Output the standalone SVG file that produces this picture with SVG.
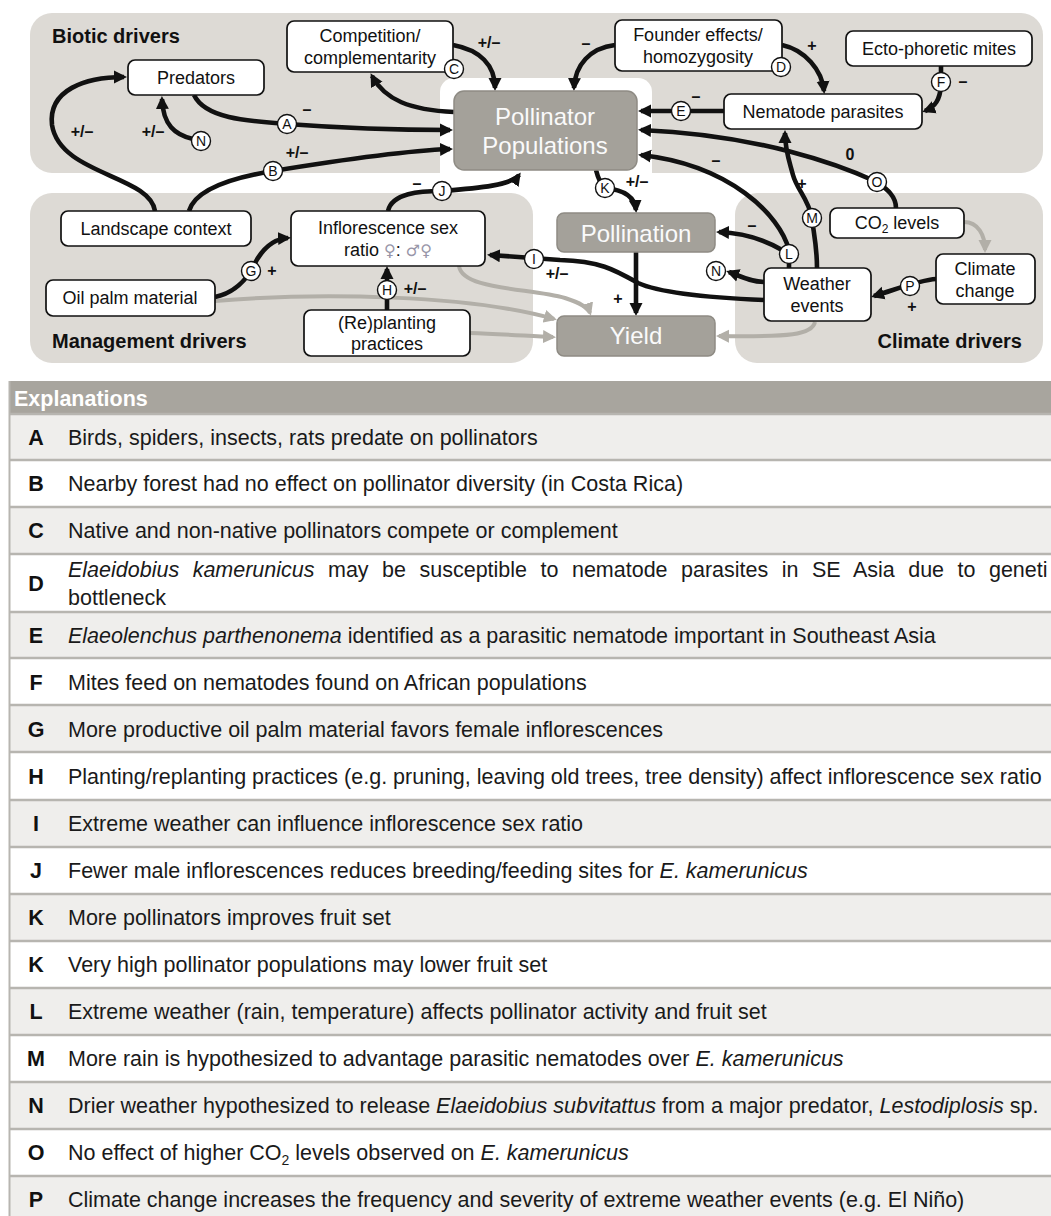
<svg xmlns="http://www.w3.org/2000/svg" width="1051" height="1216" viewBox="0 0 1051 1216">
<defs>
<style>
text{font-family:"Liberation Sans",Arial,sans-serif}
.panel{fill:#dddad5}
.node rect{fill:#fff;stroke:#111;stroke-width:1.7}
.gnode rect{fill:#a4a19a;stroke:#8e8b84;stroke-width:1.5}
.nt{font-size:18px;fill:#111;text-anchor:middle}
.gt{font-size:24px;fill:#fafafa;text-anchor:middle}
.grp{font-size:20px;font-weight:bold;fill:#111}
.e{fill:none;stroke:#111;stroke-width:4.6;marker-end:url(#ah)}
.eg{fill:none;stroke:#b2afa8;stroke-width:4;marker-end:url(#ahg)}
.mk circle{fill:#fff;stroke:#111;stroke-width:1.4}
.mk text{font-size:14px;fill:#111;text-anchor:middle}
.sg{font-size:16px;font-weight:bold;fill:#111;text-anchor:middle}
.hd{font-size:21.5px;font-weight:bold;fill:#fff}
.rl{font-size:21.5px;font-weight:bold;fill:#111;text-anchor:middle}
.rt{font-size:21.5px;fill:#1a1a1a}
.rg{fill:#efeeec}
.rw{fill:#fff}
.sep{stroke:#b7b5b0;stroke-width:2.5}
.it{font-style:italic}
.sym{fill:#9896a8;font-family:"DejaVu Sans",sans-serif;font-size:16px}
</style>
<marker id="ah" viewBox="0 0 14 14" markerWidth="14" markerHeight="14" refX="10" refY="7" orient="auto" markerUnits="userSpaceOnUse"><path d="M0,0.5 L13,7 L0,13.5 z" fill="#111"/></marker>
<marker id="ahg" viewBox="0 0 14 14" markerWidth="14" markerHeight="14" refX="10" refY="7" orient="auto" markerUnits="userSpaceOnUse"><path d="M0,0.5 L13,7 L0,13.5 z" fill="#b2afa8"/></marker>
</defs>
<rect width="1051" height="1216" fill="#fff"/>
<g id="panels">
<rect class="panel" x="30" y="13" width="1013" height="160" rx="22"/>
<rect x="440" y="78" width="212" height="120" rx="14" fill="#fff"/>
<rect class="panel" x="30" y="193" width="503" height="170" rx="22"/>
<rect class="panel" x="735" y="193" width="308" height="170" rx="22"/>
<text class="grp" x="52" y="43">Biotic drivers</text>
<text class="grp" x="52" y="348">Management drivers</text>
<text class="grp" x="1022" y="348" text-anchor="end">Climate drivers</text>
</g>
<g id="connectors">
<path class="eg" d="M215 301 C320 292 470 295 554 319"/>
<path class="eg" d="M470 333 C500 334 530 336 553 337"/>
<path class="eg" d="M459 266 C462 290 530 288 565 298 C580 303 588 307 590 313"/>
<path class="eg" d="M815 322 C812 335 790 337 719 336"/>
<path class="eg" d="M964 222 C978 222 985 235 985 250"/>
<path class="e" d="M194 95 C205 118 245 121 287 124 C340 128 400 130 450 130"/>
<path class="e" d="M189 211 C195 190 230 178 273 171 C340 160 400 151 450 149"/>
<path class="e" d="M155 211 C150 175 60 175 52 125 C48 90 85 77 124 77"/>
<path class="e" d="M193 139 C175 135 163 125 162 99"/>
<path class="e" d="M454 112 C410 110 385 100 372 76"/>
<path class="e" d="M453 45 C480 50 495 65 495 88"/>
<path class="e" d="M615 45 C590 48 575 65 574 88"/>
<path class="e" d="M782 45 C805 50 822 70 824 91"/>
<path class="e" d="M724 111 L641 111"/>
<path class="e" d="M941 66 L941 85 C940 100 935 107 925 111"/>
<path class="e" d="M896 208 C896 195 885 188 877 182 C840 165 760 135 641 130"/>
<path class="e" d="M789 268 L789 250 C780 215 730 165 641 155"/>
<path class="e" d="M782 250 C765 240 745 233 719 232"/>
<path class="e" d="M817 268 C817 245 813 230 812 218 C808 198 797 190 793 175 C789 160 785 150 785 133"/>
<path class="e" d="M765 282 C750 282 740 276 729 272"/>
<path class="e" d="M765 300 C715 298 660 293 638 283 C615 270 600 261 560 260 L490 255"/>
<path class="e" d="M936 279 C920 280 900 288 874 296"/>
<path class="e" d="M388 211 C392 193 420 191 442 191 C480 188 512 185 519 175"/>
<path class="e" d="M215 297 C235 293 245 280 251 271 C258 255 270 239 288 238"/>
<path class="e" d="M387 311 L387 269"/>
<path class="e" d="M596 170 C598 178 600 184 605 188 C625 190 635 198 636 210"/>
<path class="e" d="M636 252 L636 313"/>
<text class="sg" x="307" y="115">–</text>
<text class="sg" x="489" y="48">+/–</text>
<text class="sg" x="586" y="49">–</text>
<text class="sg" x="812" y="51">+</text>
<text class="sg" x="696" y="102">–</text>
<text class="sg" x="963" y="87">–</text>
<text class="sg" x="850" y="160">0</text>
<text class="sg" x="716" y="166">–</text>
<text class="sg" x="752" y="231">–</text>
<text class="sg" x="802" y="189">+</text>
<text class="sg" x="297" y="158">+/–</text>
<text class="sg" x="82" y="137">+/–</text>
<text class="sg" x="153" y="137">+/–</text>
<text class="sg" x="417" y="189">–</text>
<text class="sg" x="637" y="187">+/–</text>
<text class="sg" x="272" y="276">+</text>
<text class="sg" x="415" y="294">+/–</text>
<text class="sg" x="557" y="279">+/–</text>
<text class="sg" x="618" y="304">+</text>
<text class="sg" x="912" y="312">+</text>
</g>
<g id="n-predators" class="node"><rect x="128" y="60" width="136" height="35" rx="7"/><text class="nt" x="196" y="84">Predators</text></g>
<g id="n-competition" class="node"><rect x="287" y="21" width="166" height="51" rx="7"/><text class="nt" x="370" y="42">Competition/</text><text class="nt" x="370" y="64">complementarity</text></g>
<g id="n-founder" class="node"><rect x="615" y="20" width="167" height="51" rx="7"/><text class="nt" x="698" y="41">Founder effects/</text><text class="nt" x="698" y="63">homozygosity</text></g>
<g id="n-ecto" class="node"><rect x="846" y="31" width="186" height="35" rx="7"/><text class="nt" x="939" y="55">Ecto-phoretic mites</text></g>
<g id="n-nematode" class="node"><rect x="724" y="94" width="198" height="35" rx="7"/><text class="nt" x="823" y="118">Nematode parasites</text></g>
<g id="n-pollinator" class="gnode"><rect x="454" y="91" width="183" height="79" rx="10"/><text class="gt" x="545" y="125">Pollinator</text><text class="gt" x="545" y="154">Populations</text></g>
<g id="n-landscape" class="node"><rect x="61" y="211" width="190" height="35" rx="7"/><text class="nt" x="156" y="235">Landscape context</text></g>
<g id="n-inflorescence" class="node"><rect x="291" y="211" width="194" height="55" rx="7"/><text class="nt" x="388" y="234">Inflorescence sex</text><text class="nt" x="388" y="256">ratio <tspan class="sym">♀</tspan>: <tspan class="sym">♂♀</tspan></text></g>
<g id="n-oilpalm" class="node"><rect x="46" y="280" width="169" height="36" rx="7"/><text class="nt" x="130" y="304">Oil palm material</text></g>
<g id="n-replanting" class="node"><rect x="304" y="310" width="166" height="46" rx="7"/><text class="nt" x="387" y="329">(Re)planting</text><text class="nt" x="387" y="350">practices</text></g>
<g id="n-pollination" class="gnode"><rect x="557" y="213" width="158" height="39" rx="7"/><text class="gt" x="636" y="242">Pollination</text></g>
<g id="n-yield" class="gnode"><rect x="557" y="316" width="158" height="40" rx="7"/><text class="gt" x="636" y="344">Yield</text></g>
<g id="n-weather" class="node"><rect x="764" y="268" width="107" height="53" rx="7"/><text class="nt" x="817" y="290">Weather</text><text class="nt" x="817" y="312">events</text></g>
<g id="n-co2" class="node"><rect x="830" y="208" width="134" height="30" rx="7"/><text class="nt" x="897" y="229">CO<tspan font-size="12" dy="4">2</tspan><tspan dy="-4"> levels</tspan></text></g>
<g id="n-climate" class="node"><rect x="936" y="254" width="99" height="50" rx="7"/><text class="nt" x="985" y="275">Climate</text><text class="nt" x="985" y="297">change</text></g>
<g id="connector-markers" class="mk">
<circle cx="287" cy="124" r="9.5"/><text x="287" y="129">A</text>
<circle cx="273" cy="171" r="9.5"/><text x="273" y="176">B</text>
<circle cx="454" cy="69" r="9.5"/><text x="454" y="74">C</text>
<circle cx="781" cy="67" r="9.5"/><text x="781" y="72">D</text>
<circle cx="681" cy="111" r="9.5"/><text x="681" y="116">E</text>
<circle cx="941" cy="82" r="9.5"/><text x="941" y="87">F</text>
<circle cx="201" cy="141" r="9.5"/><text x="201" y="146">N</text>
<circle cx="442" cy="191" r="9.5"/><text x="442" y="196">J</text>
<circle cx="251" cy="271" r="9.5"/><text x="251" y="276">G</text>
<circle cx="387" cy="290" r="9.5"/><text x="387" y="295">H</text>
<circle cx="534" cy="259" r="9.5"/><text x="534" y="264">I</text>
<circle cx="605" cy="188" r="9.5"/><text x="605" y="193">K</text>
<circle cx="789" cy="254" r="9.5"/><text x="789" y="259">L</text>
<circle cx="812" cy="218" r="9.5"/><text x="812" y="223">M</text>
<circle cx="716" cy="271" r="9.5"/><text x="716" y="276">N</text>
<circle cx="877" cy="182" r="9.5"/><text x="877" y="187">O</text>
<circle cx="910" cy="286" r="9.5"/><text x="910" y="291">P</text>
</g>
<g id="table">
<rect x="9" y="381" width="1042" height="33" fill="#a8a59e"/>
<text class="hd" x="14" y="406">Explanations</text>
<rect class="rg" x="10" y="414" width="1041" height="46"/>
<rect class="rw" x="10" y="460" width="1041" height="47"/>
<rect class="rg" x="10" y="507" width="1041" height="47"/>
<rect class="rw" x="10" y="554" width="1041" height="58"/>
<rect class="rg" x="10" y="612" width="1041" height="46"/>
<rect class="rw" x="10" y="658" width="1041" height="47"/>
<rect class="rg" x="10" y="705" width="1041" height="47"/>
<rect class="rw" x="10" y="752" width="1041" height="48"/>
<rect class="rg" x="10" y="800" width="1041" height="47"/>
<rect class="rw" x="10" y="847" width="1041" height="47"/>
<rect class="rg" x="10" y="894" width="1041" height="47"/>
<rect class="rw" x="10" y="941" width="1041" height="47"/>
<rect class="rg" x="10" y="988" width="1041" height="47"/>
<rect class="rw" x="10" y="1035" width="1041" height="47"/>
<rect class="rg" x="10" y="1082" width="1041" height="47"/>
<rect class="rw" x="10" y="1129" width="1041" height="47"/>
<rect class="rg" x="10" y="1176" width="1041" height="40"/>
<g class="sep">
<line x1="9" y1="414" x2="1051" y2="414"/><line x1="9" y1="460" x2="1051" y2="460"/><line x1="9" y1="507" x2="1051" y2="507"/><line x1="9" y1="554" x2="1051" y2="554"/><line x1="9" y1="612" x2="1051" y2="612"/><line x1="9" y1="658" x2="1051" y2="658"/><line x1="9" y1="705" x2="1051" y2="705"/><line x1="9" y1="752" x2="1051" y2="752"/><line x1="9" y1="800" x2="1051" y2="800"/><line x1="9" y1="847" x2="1051" y2="847"/><line x1="9" y1="894" x2="1051" y2="894"/><line x1="9" y1="941" x2="1051" y2="941"/><line x1="9" y1="988" x2="1051" y2="988"/><line x1="9" y1="1035" x2="1051" y2="1035"/><line x1="9" y1="1082" x2="1051" y2="1082"/><line x1="9" y1="1129" x2="1051" y2="1129"/><line x1="9" y1="1176" x2="1051" y2="1176"/>
<line x1="9.5" y1="381" x2="9.5" y2="1216" stroke-width="2"/>
</g>
<text class="rl" x="36" y="445">A</text><text class="rt" x="68" y="445">Birds, spiders, insects, rats predate on pollinators</text>
<text class="rl" x="36" y="491">B</text><text class="rt" x="68" y="491">Nearby forest had no effect on pollinator diversity (in Costa Rica)</text>
<text class="rl" x="36" y="538">C</text><text class="rt" x="68" y="538">Native and non-native pollinators compete or complement</text>
<text class="rl" x="36" y="591">D</text><text class="rt" x="68" y="577" word-spacing="7.5"><tspan class="it">Elaeidobius kamerunicus</tspan> may be susceptible to nematode parasites in SE Asia due to geneti</text><text class="rt" x="68" y="605">bottleneck</text>
<text class="rl" x="36" y="643">E</text><text class="rt" x="68" y="643"><tspan class="it">Elaeolenchus parthenonema</tspan> identified as a parasitic nematode important in Southeast Asia</text>
<text class="rl" x="36" y="690">F</text><text class="rt" x="68" y="690">Mites feed on nematodes found on African populations</text>
<text class="rl" x="36" y="737">G</text><text class="rt" x="68" y="737">More productive oil palm material favors female inflorescences</text>
<text class="rl" x="36" y="784">H</text><text class="rt" x="68" y="784">Planting/replanting practices (e.g. pruning, leaving old trees, tree density) affect inflorescence sex ratio</text>
<text class="rl" x="36" y="831">I</text><text class="rt" x="68" y="831">Extreme weather can influence inflorescence sex ratio</text>
<text class="rl" x="36" y="878">J</text><text class="rt" x="68" y="878">Fewer male inflorescences reduces breeding/feeding sites for <tspan class="it">E. kamerunicus</tspan></text>
<text class="rl" x="36" y="925">K</text><text class="rt" x="68" y="925">More pollinators improves fruit set</text>
<text class="rl" x="36" y="972">K</text><text class="rt" x="68" y="972">Very high pollinator populations may lower fruit set</text>
<text class="rl" x="36" y="1019">L</text><text class="rt" x="68" y="1019">Extreme weather (rain, temperature) affects pollinator activity and fruit set</text>
<text class="rl" x="36" y="1066">M</text><text class="rt" x="68" y="1066">More rain is hypothesized to advantage parasitic nematodes over <tspan class="it">E. kamerunicus</tspan></text>
<text class="rl" x="36" y="1113">N</text><text class="rt" x="68" y="1113">Drier weather hypothesized to release <tspan class="it">Elaeidobius subvitattus</tspan> from a major predator, <tspan class="it">Lestodiplosis</tspan> sp.</text>
<text class="rl" x="36" y="1160">O</text><text class="rt" x="68" y="1160">No effect of higher CO<tspan font-size="14" dy="5">2</tspan><tspan dy="-5"> levels observed on </tspan><tspan class="it">E. kamerunicus</tspan></text>
<text class="rl" x="36" y="1207">P</text><text class="rt" x="68" y="1207">Climate change increases the frequency and severity of extreme weather events (e.g. El Niño)</text>
</g>
</svg>
